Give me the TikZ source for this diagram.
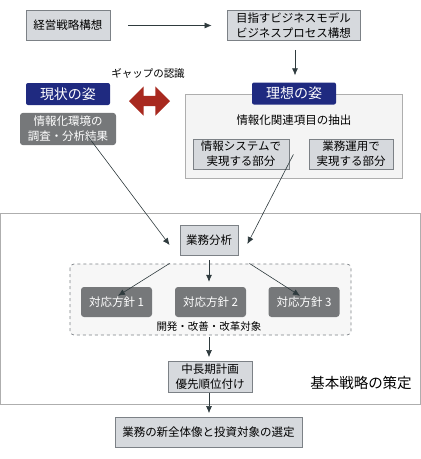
\documentclass[tikz,border=0pt]{standalone}
\usepackage{fontspec}
\newfontfamily\jpfont{Noto Sans CJK JP}
\usetikzlibrary{arrows.meta,shapes.arrows}
\definecolor{boxfill}{HTML}{D6D9DD}
\definecolor{boxline}{HTML}{7C8186}
\definecolor{navy}{HTML}{1F2A80}
\definecolor{darkbox}{HTML}{76787A}
\definecolor{arrowcol}{HTML}{2F3B3E}
\definecolor{gaparrow}{HTML}{A8291F}
\definecolor{panelfill}{HTML}{F4F4F4}
\definecolor{panelline}{HTML}{AEAEAE}
\begin{document}
\begin{tikzpicture}[x=1pt, y=-1pt,
    every node/.style={font=\jpfont\fontsize{11.5}{15}\selectfont},
    graybox/.style={draw=boxline, fill=boxfill, line width=0.8pt, minimum height=30pt, inner sep=2pt, align=center},
    navybox/.style={fill=navy, text=white, rounded corners=2pt, minimum width=84pt, minimum height=22pt, font=\jpfont\fontsize{14}{15}\selectfont},
    policy/.style={fill=darkbox, text=white, rounded corners=3pt, minimum width=71pt, minimum height=30pt},
    arr/.style={draw=arrowcol, line width=0.6pt, -{Latex[length=7pt,width=6pt]}}]
  \useasboundingbox (0,0) rectangle (421,459);

  \draw[panelline, line width=1pt] (0.5,213) rectangle (420.5,404);
  \draw[panelline, fill=panelfill, line width=0.8pt] (185,94) rectangle (402,178);
  \draw[boxline, fill=panelfill!70!white, dashed, rounded corners=4pt, line width=0.7pt] (70,264) rectangle (351,335);

  \node[graybox, minimum width=84pt] (K) at (68,25.5) {経営戦略構想};
  \node[graybox, minimum width=133pt] (M) at (293.5,25.5) {目指すビジネスモデル\\ビジネスプロセス構想};

  \node[navybox] (G) at (68,94) {現状の姿};
  \node[fill=darkbox, text=white, rounded corners=3pt, minimum width=96pt, minimum height=31pt, align=center] (GC) at (68,129) {情報化環境の\\調査・分析結果};
  \node[navybox] (R) at (294,93.5) {理想の姿};
  \node (RT) at (294,120) {情報化関連項目の抽出};
  \node[graybox, minimum width=96pt] (RS) at (241,154) {情報システムで\\実現する部分};
  \node[graybox, minimum width=84pt] (RU) at (351,154) {業務運用で\\実現する部分};

  \node[font=\jpfont\fontsize{10.5}{12}\selectfont] (GL) at (148,73) {ギャップの認識};
  \node[double arrow, fill=gaparrow, inner sep=5pt, minimum height=41pt, double arrow head extend=9.5pt] (GA) at (149.5,101) {};

  \node[graybox, minimum width=58pt] (B) at (209,240) {業務分析};
  \node[policy] (P1) at (116.5,302) {対応方針 1};
  \node[policy] (P2) at (210.5,302) {対応方針 2};
  \node[policy] (P3) at (304,302) {対応方針 3};
  \node[font=\jpfont\fontsize{10.5}{12}\selectfont] (PT) at (209,327) {開発・改善・改革対象};
  \node[graybox, minimum width=84pt, minimum height=31pt] (C) at (210,377) {中長期計画\\優先順位付け};
  \node[font=\jpfont\fontsize{14.5}{16}\selectfont] (KS) at (361,383) {基本戦略の策定};
  \node[graybox, minimum width=187pt] (E) at (208.5,432.5) {業務の新全体像と投資対象の選定};

  \draw[arr, shorten <=18pt, shorten >=15pt] (K) -- (M);
  \draw[arr, shorten <=9pt, shorten >=7pt] (M.south -| 295,0) -- (R.north -| 295,0);
  \draw[arr] ([xshift=20pt, yshift=9pt]GC.south) -- ([xshift=-10pt, yshift=-5pt]B.west);
  \draw[arr] ([xshift=4pt, yshift=15pt]RS.south east) -- ([xshift=9pt, yshift=-4pt]B.east);
  \draw[arr] ([xshift=-10pt, yshift=-8pt]B.south west) -- ([xshift=1.5pt, yshift=-9pt]P1.north);
  \draw[arr, shorten <=5pt, shorten >=5pt] (B.south) -- (P2.north -| B.south);
  \draw[arr] ([xshift=11pt, yshift=-8pt]B.south east) -- ([xshift=-4pt, yshift=-9pt]P3.north);
  \draw[arr, shorten >=4pt] (PT.south -| 209,0) ++(0,2) -- (C.north -| 209,0);
  \draw[arr, shorten >=4pt] (C.south -| 209,0) -- (E.north -| 209,0);
\end{tikzpicture}
\end{document}
